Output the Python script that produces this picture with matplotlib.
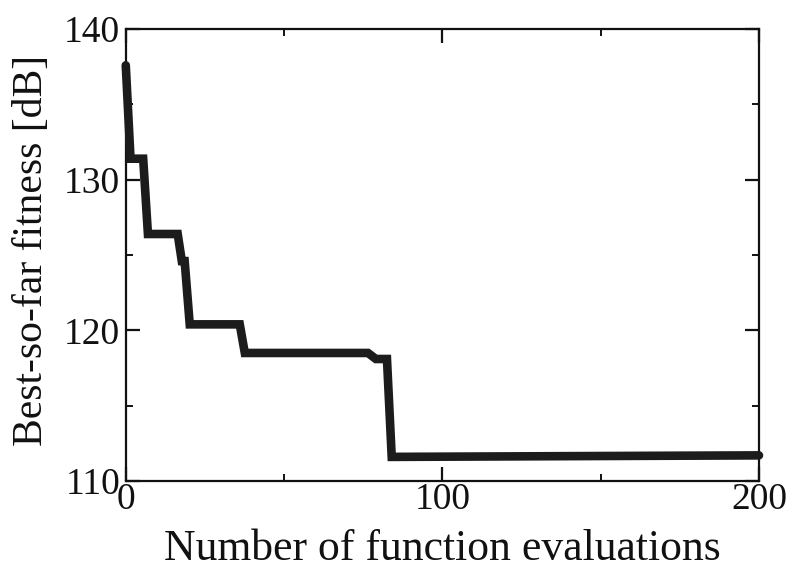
import matplotlib
matplotlib.use("Agg")
import matplotlib.pyplot as plt
from matplotlib.ticker import MultipleLocator

# Best-so-far fitness trace (evaluation index, fitness in dB)
evaluations = [0, 1.5, 5.5, 7, 16.4, 17.7, 18.6, 20.2, 36.0, 37.6, 76.5, 79.0, 82.5, 84.0, 200]
fitness_db = [137.6, 131.4, 131.4, 126.4, 126.4, 124.6, 124.6, 120.4, 120.4, 118.5, 118.5, 118.1, 118.1, 111.6, 111.7]

x_ticks = [0, 100, 200]
y_ticks = [110, 120, 130, 140]

plt.rcParams["font.family"] = ["Liberation Serif", "DejaVu Serif"]

fig = plt.figure(figsize=(7.96, 5.69), dpi=100)
ax = fig.add_axes([0.158, 0.1547, 0.7955, 0.794])

ax.plot(evaluations, fitness_db, color="#1c1c1c", linewidth=6.2,
        solid_joinstyle="miter", solid_capstyle="round", clip_on=False, zorder=3)

ax.set_xlim(0, 200)
ax.set_ylim(110, 140)
ax.set_xticks(x_ticks)
ax.set_yticks(y_ticks)
ax.xaxis.set_minor_locator(MultipleLocator(50))
ax.yaxis.set_minor_locator(MultipleLocator(5))

for s in ax.spines.values():
    s.set_linewidth(1.6)
    s.set_color("#111111")

ax.tick_params(which="both", direction="in", top=True, right=True,
               color="#111111", labelsize=27, labelcolor="#111111")
ax.tick_params(which="major", length=10, width=1.6)
ax.tick_params(which="minor", length=5, width=1.4)
ax.tick_params(axis="x", which="major", pad=1)
ax.tick_params(axis="y", which="major", pad=4)

ax.set_xlabel("Number of function evaluations", fontsize=31.5, color="#111111", labelpad=9)
ax.set_ylabel("Best-so-far fitness [dB]", fontsize=30, color="#111111")
ax.yaxis.set_label_coords(-0.118, 0.51)

fig.savefig("out.png", dpi=100, facecolor="white")
